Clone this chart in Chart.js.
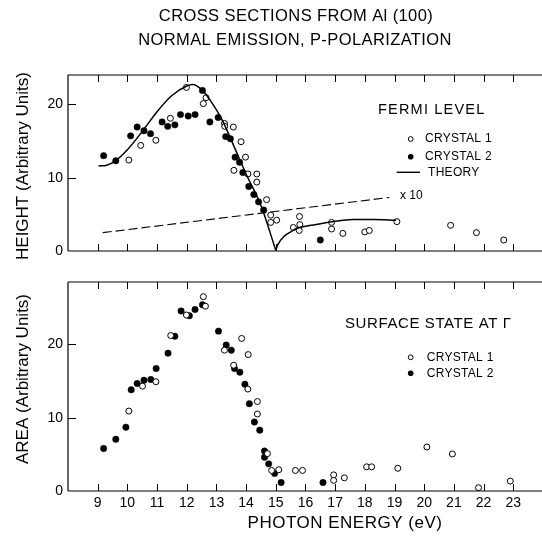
<!DOCTYPE html>
<html>
<head>
<meta charset="utf-8">
<script src="https://cdn.jsdelivr.net/npm/chart.js@4.4.1/dist/chart.umd.min.js"></script>
<style>
  html, body { margin: 0; padding: 0; background: #fff; }
  #wrap { position: relative; width: 542px; height: 542px; }
  canvas { position: absolute; left: 0; top: 0; }
</style>
</head>
<body>
<div id="wrap">
  <canvas id="top" width="542" height="542"></canvas>
  <canvas id="bot" width="542" height="542"></canvas>
</div>
<script>
// ---------- DATA ----------
const titleLines = ["CROSS SECTIONS FROM Al (100)", "NORMAL EMISSION, P-POLARIZATION"];
const xTicks = [9, 10, 11, 12, 13, 14, 15, 16, 17, 18, 19, 20, 21, 22, 23];
const yTicks = [0, 10, 20];

// Top panel: Fermi level height
const fermiC1X = [10.05, 10.45, 10.96, 11.45, 11.99, 12.56, 12.65, 13.27, 13.28, 13.57, 13.59, 13.83, 13.98, 14.06, 14.36, 14.36, 14.69, 14.83, 14.83, 15.03, 15.59, 15.79, 15.80, 15.81, 16.88, 16.88, 17.26, 18.00, 18.15, 19.08, 20.89, 21.76, 22.68];
const fermiC1Y = [12.4, 14.4, 15.1, 18.1, 22.3, 20.1, 20.9, 17.4, 17.0, 16.9, 11.0, 14.9, 12.8, 10.5, 10.5, 9.4, 7.0, 4.9, 3.9, 4.2, 3.2, 2.8, 4.7, 3.6, 3.9, 3.0, 2.4, 2.6, 2.8, 4.0, 3.5, 2.5, 1.5];
const fermiC2X = [9.20, 9.61, 10.11, 10.33, 10.56, 10.78, 11.17, 11.36, 11.60, 11.79, 12.05, 12.28, 12.53, 12.78, 13.06, 13.31, 13.47, 13.63, 13.78, 13.89, 14.09, 14.26, 14.42, 14.59, 16.50];
const fermiC2Y = [13.0, 12.3, 15.7, 16.9, 16.4, 16.0, 17.6, 17.0, 17.2, 18.6, 18.4, 18.6, 21.9, 17.6, 18.2, 15.6, 15.3, 12.8, 12.1, 10.7, 8.8, 7.7, 6.7, 5.6, 1.5];
// Theory curve (two branches meeting at the cusp near 15 eV)
const theoryAX = [9.03, 9.3, 9.6, 10.0, 10.5, 11.0, 11.5, 12.0, 12.2, 12.5, 12.8, 13.2, 13.6, 14.0, 14.5, 15.0];
const theoryAY = [11.6, 11.7, 12.3, 13.8, 16.3, 19.0, 21.2, 22.5, 22.7, 22.0, 20.5, 17.8, 14.2, 10.5, 6.2, 0.1];
const theoryBX = [15.0, 15.06, 15.28, 15.5, 15.72, 16.2, 16.9, 17.6, 18.3, 19.05];
const theoryBY = [0.1, 0.8, 2.0, 2.6, 3.1, 3.5, 4.0, 4.3, 4.3, 4.2];
// Dashed theory x10 line
const x10X = [9.17, 18.83];
const x10Y = [2.5, 7.3];

// Bottom panel: surface state area
const surfC1X = [10.05, 10.51, 10.96, 11.46, 11.99, 12.56, 12.63, 13.27, 13.58, 13.85, 14.06, 14.07, 14.38, 14.38, 14.72, 14.86, 15.10, 15.66, 15.90, 16.95, 16.95, 17.31, 18.06, 18.23, 19.11, 20.09, 20.95, 21.83, 22.90];
const surfC1Y = [10.9, 14.3, 14.9, 21.2, 24.0, 26.5, 25.2, 19.2, 17.15, 20.8, 13.9, 18.6, 12.2, 10.5, 5.1, 2.8, 2.9, 2.8, 2.8, 2.2, 1.45, 1.8, 3.3, 3.3, 3.1, 6.0, 5.05, 0.45, 1.35];
const surfC2X = [9.20, 9.61, 9.95, 10.13, 10.33, 10.56, 10.79, 10.97, 11.37, 11.60, 11.81, 12.09, 12.28, 12.53, 13.07, 13.33, 13.50, 13.61, 13.79, 13.96, 14.11, 14.28, 14.46, 14.62, 14.62, 14.76, 14.96, 15.18, 16.59];
const surfC2Y = [5.8, 7.05, 8.7, 13.8, 14.65, 15.1, 15.2, 16.7, 18.8, 21.1, 24.55, 23.9, 24.75, 25.4, 21.8, 19.9, 19.2, 16.7, 16.2, 14.55, 11.9, 9.4, 8.3, 5.45, 4.6, 3.7, 2.4, 1.15, 1.15];

// ---------- HELPERS ----------
const FONT = '"Liberation Sans", Arial, Helvetica, sans-serif';
const pts = (xs, ys) => xs.map((x, i) => ({ x: x, y: ys[i] }));

function openSet(xs, ys) {
  return { type: 'scatter', data: pts(xs, ys), pointStyle: 'circle', pointRadius: 3, pointBorderWidth: 1,
           pointBackgroundColor: '#fff', pointBorderColor: '#000', showLine: false };
}
function filledSet(xs, ys) {
  return { type: 'scatter', data: pts(xs, ys), pointStyle: 'circle', pointRadius: 3.2, pointBorderWidth: 0.5,
           pointBackgroundColor: '#000', pointBorderColor: '#000', showLine: false };
}
function lineSet(xs, ys, dash) {
  return { type: 'line', data: pts(xs, ys), borderColor: '#000', borderWidth: dash ? 1.1 : 1.5, borderDash: dash || [],
           pointRadius: 0, fill: false, tension: 0.4, cubicInterpolationMode: 'monotone', showLine: true };
}

const framePlugin = {
  id: 'frame',
  afterDatasetsDraw(chart) {
    const { ctx, chartArea: a, scales: { x, y } } = chart;
    ctx.save();
    ctx.strokeStyle = '#000';
    ctx.lineWidth = 1.2;
    ctx.beginPath();
    ctx.moveTo(a.left, a.top); ctx.lineTo(a.left, a.bottom);
    ctx.moveTo(a.left, a.top); ctx.lineTo(chart.width, a.top);
    ctx.moveTo(a.left, a.bottom); ctx.lineTo(chart.width, a.bottom);
    ctx.stroke();
    ctx.lineWidth = 1;
    ctx.beginPath();
    xTicks.forEach(v => {
      const px = Math.round(x.getPixelForValue(v)) + 0.5;
      ctx.moveTo(px, a.top); ctx.lineTo(px, a.top + 7);
      ctx.moveTo(px, a.bottom); ctx.lineTo(px, a.bottom - 7);
    });
    yTicks.forEach(v => {
      if (v === 0) return;
      const py = Math.round(y.getPixelForValue(v)) + 0.5;
      ctx.moveTo(a.left, py); ctx.lineTo(a.left + 8, py);
    });
    ctx.stroke();
    ctx.restore();
  }
};

function textPlugin(items) {
  return {
    id: 'texts',
    afterDraw(chart) {
      const ctx = chart.ctx;
      ctx.save();
      ctx.fillStyle = '#000';
      ctx.strokeStyle = '#000';
      items.forEach(it => {
        ctx.save();
        ctx.font = it.size + 'px ' + FONT;
        ctx.letterSpacing = (it.ls || 0) + 'px';
        ctx.textAlign = it.align || 'left';
        ctx.textBaseline = 'middle';
        ctx.translate(it.x, it.y);
        if (it.rot) ctx.rotate(it.rot);
        if (it.text) ctx.fillText(it.text, 0, 0);
        if (it.marker === 'open') {
          ctx.beginPath(); ctx.arc(it.mx - it.x, 0, 2.4, 0, Math.PI * 2);
          ctx.fillStyle = '#fff'; ctx.fill(); ctx.lineWidth = 1; ctx.stroke(); ctx.fillStyle = '#000';
        } else if (it.marker === 'filled') {
          ctx.beginPath(); ctx.arc(it.mx - it.x, 0, 2.8, 0, Math.PI * 2); ctx.fill();
        } else if (it.marker === 'line') {
          ctx.beginPath(); ctx.lineWidth = 1.4; ctx.moveTo(it.mx - it.x, 0); ctx.lineTo(it.mx2 - it.x, 0); ctx.stroke();
        }
        ctx.restore();
      });
      ctx.restore();
    }
  };
}

function makeOptions(padTop, padBottom, yMax, xAxisHeight, showXLabels) {
  return {
    responsive: false, animation: false, devicePixelRatio: 1,
    layout: { padding: { top: padTop, bottom: padBottom, left: 0, right: 0 } },
    plugins: { legend: { display: false }, tooltip: { enabled: false } },
    scales: {
      x: {
        type: 'linear', min: 8, max: 23.8,
        grid: { display: false, drawTicks: false }, border: { display: false },
        afterBuildTicks: s => { s.ticks = xTicks.map(v => ({ value: v })); },
        ticks: { display: showXLabels, color: '#000', padding: 4, autoSkip: false, maxRotation: 0,
                 font: { family: FONT, size: 14 } },
        afterFit: s => { s.height = xAxisHeight; }
      },
      y: {
        type: 'linear', min: 0, max: yMax,
        grid: { display: false, drawTicks: false }, border: { display: false },
        afterBuildTicks: s => { s.ticks = yTicks.map(v => ({ value: v })); },
        ticks: { color: '#000', padding: 5, font: { family: FONT, size: 14 } },
        afterFit: s => { s.width = 68; }
      }
    }
  };
}

// ---------- TOP CHART ----------
new Chart(document.getElementById('top'), {
  data: {
    datasets: [
      lineSet(x10X, x10Y, [9, 4]),
      lineSet(theoryAX, theoryAY),
      lineSet(theoryBX, theoryBY),
      openSet(fermiC1X, fermiC1Y),
      filledSet(fermiC2X, fermiC2Y)
    ]
  },
  options: makeOptions(75, 291, 24, 0, false),
  plugins: [framePlugin, textPlugin([
    { text: titleLines[0], x: 296, y: 16, size: 16.5, align: 'center', ls: 0.4 },
    { text: titleLines[1], x: 295, y: 40, size: 16.5, align: 'center', ls: 0.4 },
    { text: 'HEIGHT (Arbitrary Units)', x: 23, y: 166, size: 17, align: 'center', rot: -Math.PI / 2 },
    { text: 'FERMI LEVEL', x: 378, y: 110, size: 14.5, ls: 1.2 },
    { text: 'CRYSTAL 1', x: 425, y: 139, size: 12, ls: 0.3, marker: 'open', mx: 410.7 },
    { text: 'CRYSTAL 2', x: 425, y: 156.7, size: 12, ls: 0.3, marker: 'filled', mx: 410.7 },
    { text: 'THEORY', x: 428, y: 172.3, size: 12, ls: 0.3, marker: 'line', mx: 396.7, mx2: 420 },
    { text: 'x 10', x: 400, y: 195.5, size: 12 }
  ])]
});

// ---------- BOTTOM CHART ----------
new Chart(document.getElementById('bot'), {
  data: {
    datasets: [
      openSet(surfC1X, surfC1Y),
      filledSet(surfC2X, surfC2Y)
    ]
  },
  options: makeOptions(282, 0, 28.5, 51, true),
  plugins: [framePlugin, textPlugin([
    { text: 'AREA (Arbitrary Units)', x: 23, y: 379, size: 17, align: 'center', rot: -Math.PI / 2 },
    { text: 'SURFACE STATE AT Γ', x: 345, y: 324, size: 15, ls: 0.6 },
    { text: 'CRYSTAL 1', x: 426.7, y: 357.3, size: 12, ls: 0.3, marker: 'open', mx: 410.7 },
    { text: 'CRYSTAL 2', x: 426.7, y: 373.3, size: 12, ls: 0.3, marker: 'filled', mx: 410.7 },
    { text: 'PHOTON ENERGY (eV)', x: 345, y: 523.5, size: 17, align: 'center', ls: 0.5 }
  ])]
});
</script>
</body>
</html>
